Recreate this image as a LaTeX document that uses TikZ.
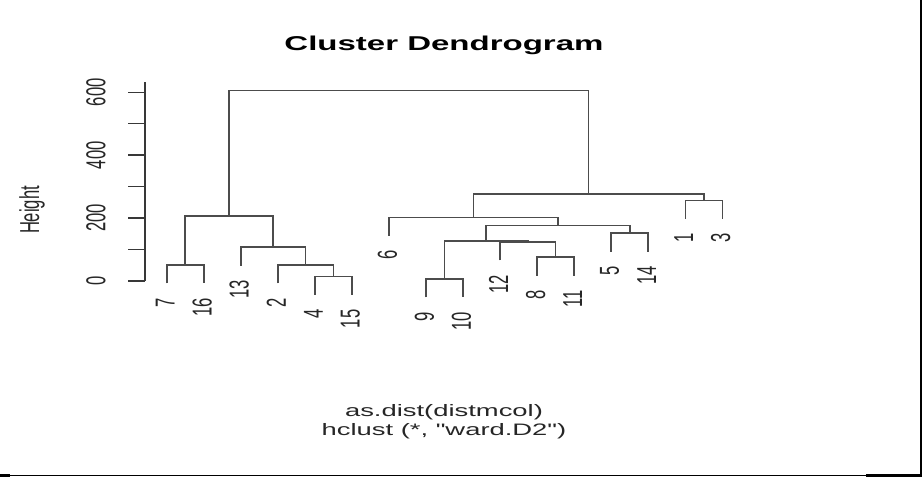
\documentclass[tikz,border=0pt]{standalone}
\usepackage{fontspec}
\newfontfamily\hfont[FakeStretch=1.65]{Liberation Sans}
\newfontfamily\vfont[FakeStretch=0.606]{Liberation Sans}
\begin{document}
\begin{tikzpicture}[x=1pt,y=-1pt,
  tree/.style={draw=black!70, line width=1.6pt},
  axisline/.style={draw=black!78, line width=1.4pt},
  leaflab/.style={rotate=90, anchor=east, inner sep=0pt, text=black!85,
    font=\vfont\fontsize{27.4}{30}\selectfont},
  ticklab/.style={rotate=90, anchor=center, inner sep=0pt, text=black!85,
    font=\vfont\fontsize{27.4}{30}\selectfont},
  uplab/.style={anchor=base, inner sep=0pt, text=black!85,
    font=\hfont\fontsize{16.6}{20}\selectfont},
  titlelab/.style={anchor=base, inner sep=0pt, text=black,
    font=\hfont\bfseries\fontsize{20}{24}\selectfont}]
\useasboundingbox (0,0) rectangle (922,478);
\fill[white] (0,0) rectangle (922,478);

% title and axis labels
\node[titlelab] (title) at (444,50.5) {Cluster Dendrogram};
\node[uplab] (sub1) at (444,416.5) {as.dist(distmcol)};
\node[uplab] (sub2) at (444,436) {hclust (*, "ward.D2")};
\node[ticklab] (ylab) at (32,210) {Height};

% y axis
\coordinate (axbot) at (145,281);
\coordinate (axtop) at (145,81.7);
\draw[axisline] (axbot) -- (axtop);
\foreach \v in {0,100,...,600}{
  \draw[axisline] (128.3,{281-0.3145*\v}) -- (145,{281-0.3145*\v});
}
\foreach \v in {0,200,400,600}{
  \node[ticklab] (tick\v) at (96,{281-0.3145*\v}) {\v};
}

% leaves (bottom ends)
\coordinate (l7)  at (166.7,283.3);
\coordinate (l16) at (203.7,283.3);
\coordinate (l13) at (240.8,265.6);
\coordinate (l2)  at (277.8,283.3);
\coordinate (l4)  at (314.9,295);
\coordinate (l15) at (351.9,295);
\coordinate (l6)  at (388.9,236);
\coordinate (l9)  at (426.0,297.3);
\coordinate (l10) at (463.0,297.3);
\coordinate (l12) at (500.1,260.3);
\coordinate (l8)  at (537.1,275.6);
\coordinate (l11) at (574.1,275.6);
\coordinate (l5)  at (611.2,251.6);
\coordinate (l14) at (648.2,251.6);
\coordinate (l1)  at (685.3,219);
\coordinate (l3)  at (722.3,219);

% merges
\coordinate (mA) at (185.2,265);
\coordinate (mB) at (333.4,276.7);
\coordinate (mC) at (305.6,265);
\coordinate (mD) at (273.2,247.3);
\coordinate (mE) at (229.2,216);
\coordinate (mF) at (444.5,279);
\coordinate (mG) at (555.6,257.3);
\coordinate (mH) at (527.85,242);
\coordinate (mI) at (486.2,241.3);
\coordinate (mJ) at (629.7,233.3);
\coordinate (mK) at (557.95,225.7);
\coordinate (mL) at (473.4,217.7);
\coordinate (mM) at (703.8,200.7);
\coordinate (mN) at (588.6,194.3);
\coordinate (mR) at (408.9,90.7);

\draw[tree] (l7) |- (mA) -| (l16);
\draw[tree] (l4) |- (mB) -| (l15);
\draw[tree] (l2) |- (mC) -| (mB);
\draw[tree] (l13) |- (mD) -| (mC);
\draw[tree] (mA) |- (mE) -| (mD);
\draw[tree] (l9) |- (mF) -| (l10);
\draw[tree] (l8) |- (mG) -| (l11);
\draw[tree] (l12) |- (mH) -| (mG);
\draw[tree] (mF) |- (mI) -| (mH);
\draw[tree] (l5) |- (mJ) -| (l14);
\draw[tree] (mI) |- (mK) -| (mJ);
\draw[tree] (l6) |- (mL) -| (mK);
\draw[tree] (l1) |- (mM) -| (l3);
\draw[tree] (mL) |- (mN) -| (mM);
\draw[tree] (mE) |- (mR) -| (mN);

% leaf labels
\foreach \n in {7,16,13,2,4,15,6,9,10,12,8,11,5,14,1,3}{
  \node[leaflab] (t\n) at ([shift={(-1.5,14.5)}]l\n) {\n};
}

% frame lines at bottom and right
\draw[line width=1.2pt] (0,475.3) -- (921,475.3);
\fill (0,474) rectangle (10,477);
\fill (866,474) rectangle (921,477);
\draw[line width=1.3pt] (920.9,0) -- (920.9,477);
\end{tikzpicture}
\end{document}
